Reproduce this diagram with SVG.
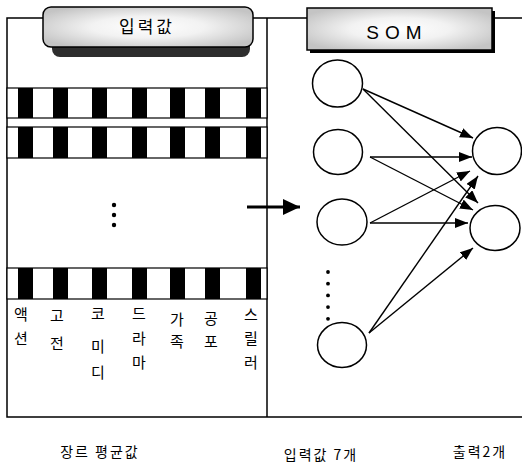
<svg xmlns="http://www.w3.org/2000/svg" width="522" height="464" viewBox="0 0 522 464">
  <defs>
    <radialGradient id="tagFill" cx="0.5" cy="0.5" r="0.6">
      <stop offset="0" stop-color="#ffffff"/>
      <stop offset="0.45" stop-color="#f2f2f2"/>
      <stop offset="1" stop-color="#c4c4c4"/>
    </radialGradient>
    <marker id="tip" markerUnits="userSpaceOnUse" markerWidth="14" markerHeight="12" refX="13" refY="5" orient="auto">
      <path d="M0,0 L13,5 L0,10 Z" fill="#000"/>
    </marker>
    <marker id="bigTip" markerUnits="userSpaceOnUse" markerWidth="18" markerHeight="18" refX="17" refY="8" orient="auto">
      <path d="M0,0 L17,8 L0,16 Z" fill="#000"/>
    </marker>
  </defs>
  <style>
    .frame { fill: none; stroke: #000; stroke-width: 1.5; }
    .row { fill: #fff; stroke: #000; stroke-width: 1.2; }
    .key { fill: #000; }
    .node { fill: #fff; stroke: #000; stroke-width: 1.5; }
    .edge { stroke: #000; stroke-width: 1.4; fill: none; marker-end: url(#tip); }
    .dot { fill: #000; }
    .lbl { font-family: "Noto Sans CJK KR", "Noto Sans", sans-serif; font-size: 15px; fill: #000; text-anchor: middle; }
    .cap { font-family: "Noto Sans CJK KR", "Noto Sans", sans-serif; font-size: 14px; fill: #000; letter-spacing: 2px; text-anchor: middle; }
  </style>

  <rect width="522" height="464" fill="#fff"/>

  <!-- panel frames -->
  <g id="frames">
    <polyline class="frame" points="522,18 7,18 7,417 522,417"/>
    <line class="frame" x1="267" y1="18" x2="267" y2="417"/>
  </g>

  <!-- input tag -->
  <g id="tag-input">
    <rect x="52" y="30" width="198" height="27" rx="8" fill="#2e2e2e"/>
    <rect x="43" y="7" width="210" height="40" rx="8" fill="url(#tagFill)" stroke="#000" stroke-width="1.5"/>
    <text x="147" y="33" font-family="Noto Sans CJK KR, sans-serif" font-size="17" letter-spacing="3" text-anchor="middle">입력값</text>
  </g>

  <!-- SOM tag -->
  <g id="tag-som">
    <rect x="310" y="11" width="185" height="42" fill="#000"/>
    <rect x="307" y="8" width="185" height="42" fill="url(#tagFill)" stroke="#000" stroke-width="1.5"/>
    <text x="397" y="39" font-family="Liberation Sans, Arial, sans-serif" font-size="19" letter-spacing="6" text-anchor="middle">SOM</text>
  </g>

  <!-- genre key rows -->
  <g id="row-1">
    <rect class="row" x="7" y="88" width="260" height="30"/>
    <rect class="key" x="18" y="88" width="15" height="30"/>
    <rect class="key" x="53" y="88" width="15" height="30"/>
    <rect class="key" x="92" y="88" width="15" height="30"/>
    <rect class="key" x="132" y="88" width="15" height="30"/>
    <rect class="key" x="170" y="88" width="15" height="30"/>
    <rect class="key" x="205" y="88" width="15" height="30"/>
    <rect class="key" x="246" y="88" width="15" height="30"/>
  </g>
  <g id="row-2">
    <rect class="row" x="7" y="127" width="260" height="31"/>
    <rect class="key" x="18" y="127" width="15" height="31"/>
    <rect class="key" x="53" y="127" width="15" height="31"/>
    <rect class="key" x="92" y="127" width="15" height="31"/>
    <rect class="key" x="132" y="127" width="15" height="31"/>
    <rect class="key" x="170" y="127" width="15" height="31"/>
    <rect class="key" x="205" y="127" width="15" height="31"/>
    <rect class="key" x="246" y="127" width="15" height="31"/>
  </g>
  <g id="row-n">
    <rect class="row" x="7" y="268" width="260" height="31"/>
    <rect class="key" x="18" y="268" width="15" height="31"/>
    <rect class="key" x="53" y="268" width="15" height="31"/>
    <rect class="key" x="92" y="268" width="15" height="31"/>
    <rect class="key" x="132" y="268" width="15" height="31"/>
    <rect class="key" x="170" y="268" width="15" height="31"/>
    <rect class="key" x="205" y="268" width="15" height="31"/>
    <rect class="key" x="246" y="268" width="15" height="31"/>
  </g>
  <g id="row-ellipsis">
    <circle class="dot" cx="114" cy="205" r="2.2"/>
    <circle class="dot" cx="114" cy="215" r="2.2"/>
    <circle class="dot" cx="114" cy="225" r="2.2"/>
  </g>

  <!-- genre labels, written vertically -->
  <g id="genre-labels">
    <text class="lbl" x="21" y="320">액</text>
    <text class="lbl" x="21" y="344">션</text>
    <text class="lbl" x="57" y="321">고</text>
    <text class="lbl" x="57" y="349">전</text>
    <text class="lbl" x="98" y="319">코</text>
    <text class="lbl" x="98" y="352">미</text>
    <text class="lbl" x="98" y="378">디</text>
    <text class="lbl" x="139" y="319">드</text>
    <text class="lbl" x="139" y="344">라</text>
    <text class="lbl" x="139" y="368">마</text>
    <text class="lbl" x="177" y="325">가</text>
    <text class="lbl" x="177" y="347">족</text>
    <text class="lbl" x="211" y="324">공</text>
    <text class="lbl" x="211" y="347">포</text>
    <text class="lbl" x="251" y="320">스</text>
    <text class="lbl" x="251" y="344">릴</text>
    <text class="lbl" x="251" y="368">러</text>
  </g>

  <!-- SOM input nodes -->
  <g id="in-1"><ellipse class="node" cx="337.5" cy="83.5" rx="25" ry="23.5"/></g>
  <g id="in-2"><ellipse class="node" cx="338" cy="152" rx="24.5" ry="22.5"/></g>
  <g id="in-3"><ellipse class="node" cx="342" cy="222" rx="25" ry="23"/></g>
  <g id="in-ellipsis">
    <circle class="dot" cx="328" cy="272" r="1.9"/>
    <circle class="dot" cx="328" cy="283.7" r="1.9"/>
    <circle class="dot" cx="328" cy="295.4" r="1.9"/>
    <circle class="dot" cx="328" cy="307.1" r="1.9"/>
    <circle class="dot" cx="328" cy="318.8" r="1.9"/>
  </g>
  <g id="in-7"><ellipse class="node" cx="342" cy="345" rx="24.5" ry="22.5"/></g>

  <!-- SOM output nodes -->
  <g id="out-1"><ellipse class="node" cx="497" cy="151" rx="24.5" ry="23.5"/></g>
  <g id="out-2"><ellipse class="node" cx="495" cy="228" rx="25" ry="22.5"/></g>

  <!-- connectors -->
  <g id="connectors">
    <line x1="247" y1="207" x2="300" y2="207" stroke="#000" stroke-width="3.2" marker-end="url(#bigTip)"/>
    <line class="edge" x1="363" y1="89" x2="473" y2="138"/>
    <line class="edge" x1="363" y1="89" x2="478" y2="203"/>
    <line class="edge" x1="370" y1="157" x2="472" y2="157"/>
    <line class="edge" x1="370" y1="157" x2="473" y2="210"/>
    <line class="edge" x1="370" y1="223" x2="470" y2="171"/>
    <line class="edge" x1="370" y1="223" x2="468" y2="223"/>
    <line class="edge" x1="369" y1="333" x2="478" y2="176"/>
    <line class="edge" x1="369" y1="333" x2="473" y2="248"/>
  </g>

  <!-- captions -->
  <g id="captions">
    <text class="cap" x="100" y="457">장르 평균값</text>
    <text class="cap" x="321" y="460">입력값 7개</text>
    <text class="cap" x="480" y="457">출력2개</text>
  </g>
</svg>
